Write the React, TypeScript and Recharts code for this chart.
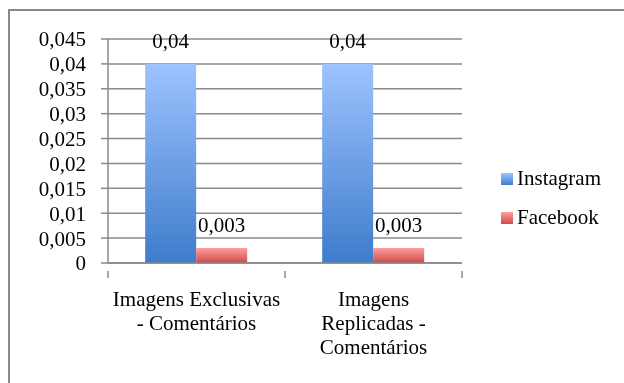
import React from "react";
import {
  BarChart,
  Bar,
  XAxis,
  YAxis,
  CartesianGrid,
  LabelList,
} from "recharts";

const categories = ["Imagens Exclusivas - Comentários", "Imagens Replicadas - Comentários"];
const categoryLines = [
  ["Imagens Exclusivas", "- Comentários"],
  ["Imagens", "Replicadas -", "Comentários"],
];
const instagram = [0.04, 0.04];
const facebook = [0.003, 0.003];
const yTicks = [0, 0.005, 0.01, 0.015, 0.02, 0.025, 0.03, 0.035, 0.04, 0.045];
const seriesNames = ["Instagram", "Facebook"];

const FONT = "'Liberation Serif', 'DejaVu Serif', serif";
const GRID = "#8a8a8a";

const data = categories.map((name, i) => ({
  name,
  instagram: instagram[i],
  facebook: facebook[i],
}));

const fmt = (v: any) => String(v).replace(".", ",");

const XTick = (props: any) => {
  const { x, y, payload, index } = props;
  const half = payload && payload.offset ? payload.offset : 88.5;
  const lines = categoryLines[index] || [String(payload.value)];
  return (
    <g>
      <line x1={x - half} y1={y} x2={x - half} y2={y + 7} stroke={GRID} strokeWidth={1.5} />
      {index === categories.length - 1 && (
        <line x1={x + half} y1={y} x2={x + half} y2={y + 7} stroke={GRID} strokeWidth={1.5} />
      )}
      <text x={x} y={y + 35} textAnchor="middle" fontFamily={FONT} fontSize={21} fill="#000">
        {lines.map((l: string, i: number) => (
          <tspan key={i} x={x} dy={i === 0 ? 0 : 24}>
            {l}
          </tspan>
        ))}
      </text>
    </g>
  );
};

const swatches = [
  ["#9dc3ff", "#3f7ccb"],
  ["#ff9d9d", "#cf4a4a"],
];

export default function App() {
  return (
    <div
      style={{
        position: "fixed",
        left: 8,
        top: 9,
        width: 700,
        height: 420,
        borderTop: "2px solid #888",
        borderLeft: "2px solid #888",
        boxSizing: "border-box",
      }}
    >
      <style>{"html,body{overflow:hidden}"}</style>
      <div style={{ position: "absolute", left: -2, top: -3 }}>
        <BarChart
          width={614}
          height={375}
          data={data}
          margin={{ top: 31, right: 160, left: 0, bottom: 80 }}
          barCategoryGap="21%"
          barGap={0}
        >
          <defs>
            <linearGradient id="gIns" x1="0" y1="0" x2="0" y2="1">
              <stop offset="0%" stopColor={swatches[0][0]} />
              <stop offset="100%" stopColor={swatches[0][1]} />
            </linearGradient>
            <linearGradient id="gFb" x1="0" y1="0" x2="0" y2="1">
              <stop offset="0%" stopColor={swatches[1][0]} />
              <stop offset="100%" stopColor={swatches[1][1]} />
            </linearGradient>
          </defs>
          <CartesianGrid vertical={false} stroke={GRID} strokeWidth={1.5} />
          <XAxis
            dataKey="name"
            height={40}
            axisLine={{ stroke: GRID, strokeWidth: 1.5 }}
            tickLine={false}
            tick={<XTick />}
            interval={0}
          />
          <YAxis
            width={100}
            domain={[0, 0.045]}
            ticks={yTicks}
            interval={0}
            tickFormatter={fmt}
            axisLine={{ stroke: GRID, strokeWidth: 1.5 }}
            tickLine={{ stroke: GRID, strokeWidth: 1.5 }}
            tickSize={7}
            tickMargin={15}
            tick={{ fontFamily: FONT, fontSize: 21, fill: "#000" }}
          />
          <Bar dataKey="instagram" name="Instagram" fill="url(#gIns)" isAnimationActive={false}>
            <LabelList
              dataKey="instagram"
              position="top"
              offset={16}
              formatter={fmt}
              style={{ fontFamily: FONT, fontSize: 21, fill: "#000" }}
            />
          </Bar>
          <Bar dataKey="facebook" name="Facebook" fill="url(#gFb)" isAnimationActive={false}>
            <LabelList
              dataKey="facebook"
              position="top"
              offset={16}
              formatter={fmt}
              style={{ fontFamily: FONT, fontSize: 21, fill: "#000" }}
            />
          </Bar>
        </BarChart>
      </div>
      <div
        style={{
          position: "absolute",
          left: 491,
          top: 148,
          fontFamily: FONT,
          fontSize: 21,
          color: "#000",
        }}
      >
        {seriesNames.map((label, i) => (
          <div key={i} style={{ display: "flex", alignItems: "center", height: 39 }}>
            <span
              style={{
                width: 12,
                height: 12,
                background: `linear-gradient(${swatches[i][0]}, ${swatches[i][1]})`,
                marginRight: 4,
              }}
            />
            <span>{label}</span>
          </div>
        ))}
      </div>
    </div>
  );
}
